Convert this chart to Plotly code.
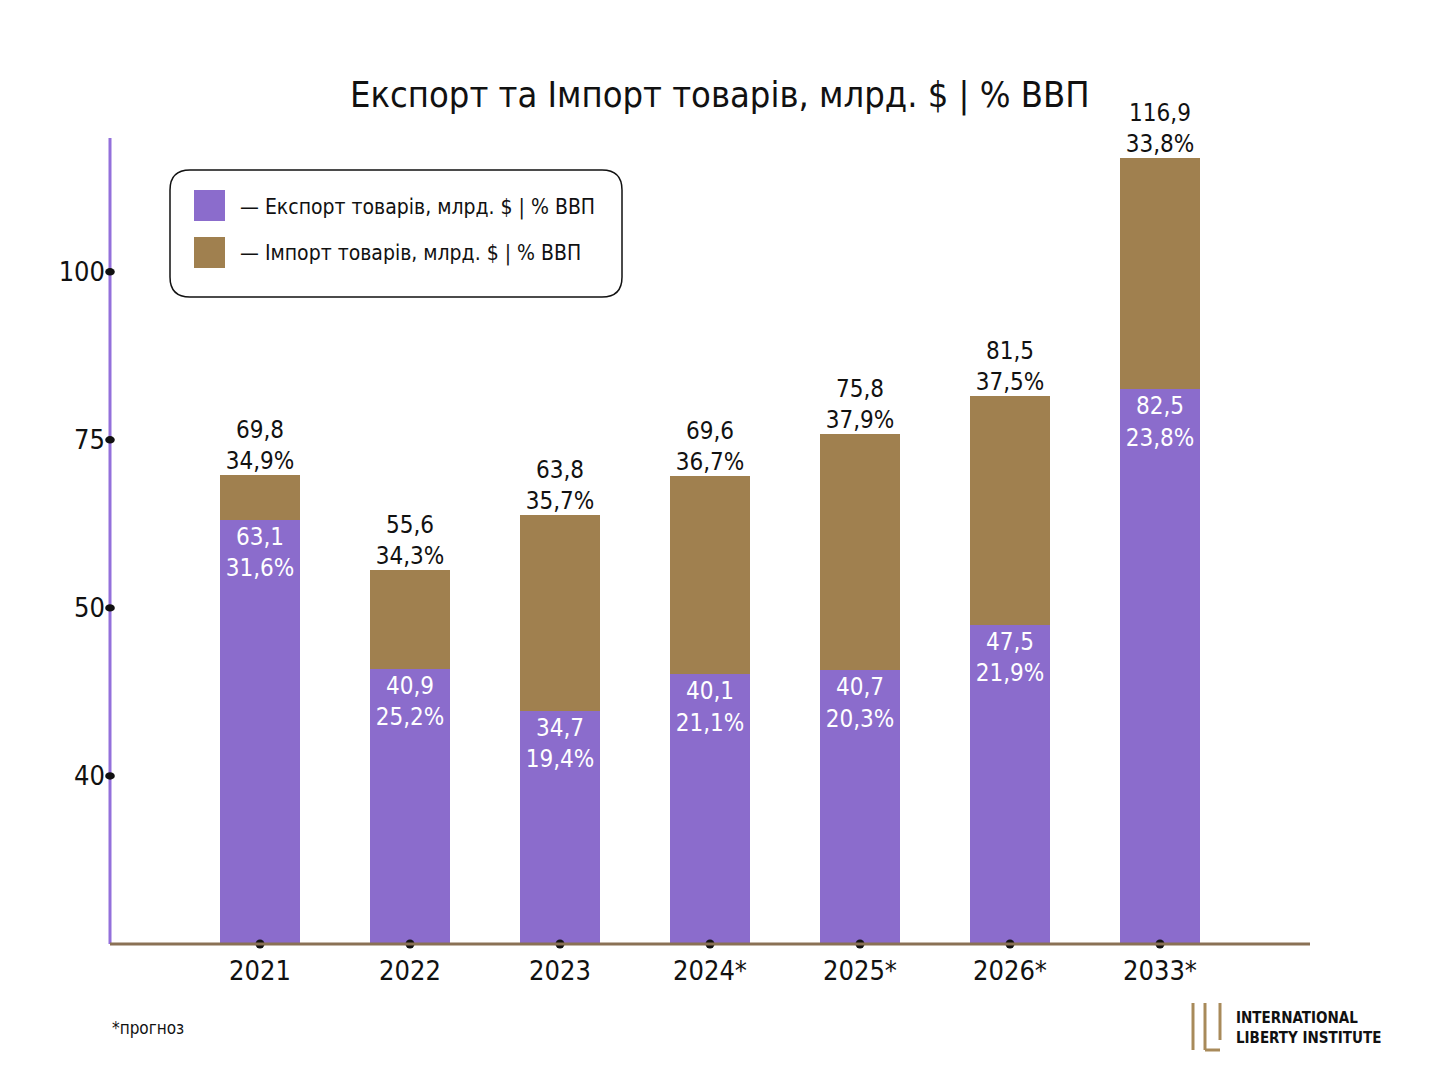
import plotly.graph_objects as go

years = ["2021", "2022", "2023", "2024*", "2025*", "2026*", "2033*"]
export_vals = [63.1, 40.9, 34.7, 40.1, 40.7, 47.5, 82.5]
export_pct = ["31,6%", "25,2%", "19,4%", "21,1%", "20,3%", "21,9%", "23,8%"]
total_vals = [69.8, 55.6, 63.8, 69.6, 75.8, 81.5, 116.9]
import_pct = ["34,9%", "34,3%", "35,7%", "36,7%", "37,9%", "37,5%", "33,8%"]
ytick_vals = [25, 50, 75, 100]
ytick_text = ["40", "50", "75", "100"]

FONT = "DejaVu Sans Condensed, Liberation Sans Narrow, Roboto, sans-serif"
PURPLE = "#8b6ccc"
BROWN = "#a0804f"

import_vals = [round(t - e, 1) for t, e in zip(total_vals, export_vals)]
fmt = lambda v: f"{v:.1f}".replace(".", ",")

fig = go.Figure()
fig.add_bar(x=years, y=export_vals, marker=dict(color=PURPLE, line_width=0), width=0.533,
            text=[f"{fmt(v)}<br>{p}" for v, p in zip(export_vals, export_pct)],
            textposition="inside", insidetextanchor="end", textangle=0,
            textfont=dict(color="white", size=24, family=FONT), showlegend=False)
fig.add_bar(x=years, y=import_vals, marker=dict(color=BROWN, line_width=0), width=0.533,
            showlegend=False)
fig.add_scatter(x=years, y=total_vals, mode="text",
                text=[f"{fmt(v)}<br>{p}" for v, p in zip(total_vals, import_pct)],
                textposition="top center", textfont=dict(size=24, family=FONT, color="#111"),
                showlegend=False, cliponaxis=False)
fig.add_scatter(x=years, y=[0] * len(years), mode="markers", marker=dict(color="#111", size=9),
                showlegend=False, cliponaxis=False)

def px(x): return (x - 110) / 1200
def py(y): return (944 - y) / 804

shapes = [
    dict(type="line", xref="paper", yref="paper", x0=0, x1=0, y0=0, y1=py(138),
         line=dict(color="#9370db", width=3)),
    dict(type="line", xref="paper", yref="paper", x0=0, x1=1, y0=0, y1=0,
         line=dict(color="#8a7155", width=3)),
    dict(type="path", xref="paper", yref="paper",
         path=f"M {px(190)} {py(170)} L {px(602)} {py(170)} Q {px(622)} {py(170)} {px(622)} {py(190)} "
              f"L {px(622)} {py(277)} Q {px(622)} {py(297)} {px(602)} {py(297)} L {px(190)} {py(297)} "
              f"Q {px(170)} {py(297)} {px(170)} {py(277)} L {px(170)} {py(190)} Q {px(170)} {py(170)} {px(190)} {py(170)} Z",
         line=dict(color="#111", width=1.5)),
    dict(type="rect", xref="paper", yref="paper", x0=px(194), x1=px(225), y0=py(221), y1=py(190),
         fillcolor=PURPLE, line_width=0),
    dict(type="rect", xref="paper", yref="paper", x0=px(194), x1=px(225), y0=py(268), y1=py(237),
         fillcolor=BROWN, line_width=0),
    dict(type="line", xref="paper", yref="paper", x0=px(1193), x1=px(1193), y0=py(1003), y1=py(1050),
         line=dict(color="#a88a5a", width=3)),
    dict(type="line", xref="paper", yref="paper", x0=px(1205), x1=px(1205), y0=py(1003), y1=py(1050),
         line=dict(color="#a88a5a", width=3)),
    dict(type="line", xref="paper", yref="paper", x0=px(1205), x1=px(1220), y0=py(1050), y1=py(1050),
         line=dict(color="#a88a5a", width=3)),
    dict(type="line", xref="paper", yref="paper", x0=px(1220), x1=px(1220), y0=py(1003), y1=py(1040),
         line=dict(color="#a88a5a", width=3)),
]
for v in ytick_vals:
    shapes.append(dict(type="circle", xref="paper", yref="y", x0=-0.004, x1=0.004,
                       y0=v - 0.55, y1=v + 0.55, fillcolor="#111", line_width=0))

def A(text, x, y, size, xanchor="center", **kw):
    return dict(text=text, x=px(x), y=py(y), xref="paper", yref="paper", xanchor=xanchor,
                yanchor="middle", showarrow=False, font=dict(size=size, family=FONT, color="#111"), **kw)

ann = [
    A("Експорт та Імпорт товарів, млрд. $ | % ВВП", 720, 95, 36),
    A("— Експорт товарів, млрд. $ | % ВВП", 238, 207, 21, "left"),
    A("— Імпорт товарів, млрд. $ | % ВВП", 238, 254, 21, "left"),
    A("*прогноз", 110, 1028, 17, "left"),
    A("<b>INTERNATIONAL<br>LIBERTY INSTITUTE</b>", 1234, 1028, 15, "left", align="left"),
]

fig.update_layout(
    barmode="stack", width=1440, height=1080, plot_bgcolor="white", paper_bgcolor="white",
    margin=dict(l=102, r=138, t=132, b=144), shapes=shapes, annotations=ann,
    font=dict(family=FONT, color="#111"),
    xaxis=dict(range=[-1, 7], showgrid=False, tickfont=dict(size=27, family=FONT), ticks="",
               showline=False, zeroline=False, ticklabelstandoff=8),
    yaxis=dict(range=[0, 119.6], tickvals=ytick_vals, ticktext=ytick_text, showgrid=False,
               zeroline=False, showline=False, tickfont=dict(size=27, family=FONT), ticks="",
               ticklabelstandoff=4),
)
fig.write_html("out.html")
